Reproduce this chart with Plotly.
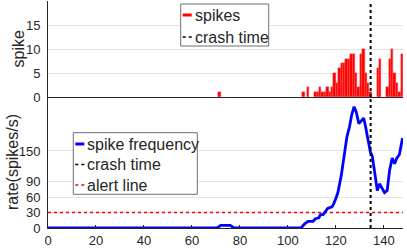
import plotly.graph_objects as go

# ---- data ----
spike_bins = [71, 106, 108, 111, 112, 113, 114, 115, 116, 117, 118, 119, 120, 121,
              122, 123, 124, 125, 126, 127, 128, 129, 130, 131, 132, 133, 134, 137,
              138, 141, 142, 143, 144, 145, 146, 147]
spike_counts = [1, 1, 2, 1, 1, 2, 1, 1, 2, 1, 2, 5, 3, 6, 7, 7, 8, 8, 9, 9, 5, 2, 9,
                10, 5, 3, 1, 6, 8, 2, 8, 10, 5, 3, 1, 9]

rate_t = [0, 70.5, 72, 76, 77.5, 105.5, 107, 108.4, 110.5, 111.5, 112.9, 113.6, 114.7,
          115.7, 116.6, 118.4, 119.1, 120.2, 120.9, 122.3, 123.7, 124.6, 125.7, 126.6,
          127.6, 128.5, 129.6, 130.6, 131.6, 132.4, 133.4, 134.4, 135.2, 135.9, 136.6,
          137.3, 138.2, 139.2, 140.3, 141.4, 142.4, 143.5, 144.5, 145.4, 146.5, 147.8]
rate_v = [0, 0, 5, 5, 0, 0, 8, 13, 13, 18, 20, 26, 26, 32, 38, 41, 47, 60, 70, 103,
          145, 177, 197, 220, 236, 226, 203, 208, 214, 197, 174, 148, 140, 119, 93, 73,
          86, 77, 69, 73, 112, 136, 125, 136, 143, 175]

crash_time = 134.5
alert_level = 30
x_range = [0, 148]
spike_range = [0, 20]
rate_range = [0, 255]
spike_ticks = [0, 5, 10, 15]
rate_ticks = [0, 30, 60, 90, 150]
x_ticks = [0, 20, 40, 60, 80, 100, 120, 140]

FONT = "Liberation Sans, Arial, sans-serif"
TXT = "#262626"
AX = "#262626"
GRID = "#e3e3e3"

fig = go.Figure()

# top: spikes
fig.add_trace(go.Bar(x=spike_bins, y=spike_counts, width=1, offset=0,
                     marker=dict(color="#ff0000", line=dict(color="#ff5a5a", width=0.4)),
                     xaxis="x2", yaxis="y2", name="spikes", showlegend=False))
fig.add_trace(go.Scatter(x=[crash_time, crash_time], y=spike_range, mode="lines",
                         line=dict(color="black", width=2, dash="dot"),
                         xaxis="x2", yaxis="y2", name="crash time", showlegend=False))

# bottom: rate
fig.add_trace(go.Scatter(x=x_range, y=[alert_level, alert_level], mode="lines",
                         line=dict(color="#ff0000", width=1.5, dash="dot"),
                         xaxis="x", yaxis="y", name="alert line", showlegend=False))
fig.add_trace(go.Scatter(x=rate_t, y=rate_v, mode="lines",
                         line=dict(color="#0000ff", width=2.8),
                         xaxis="x", yaxis="y", name="spike frequency", showlegend=False))
fig.add_trace(go.Scatter(x=[crash_time, crash_time], y=rate_range, mode="lines",
                         line=dict(color="black", width=2, dash="dot"),
                         xaxis="x", yaxis="y", name="crash time", showlegend=False))

L, R, T, B = 48, 4, 1, 22
W, H = 407, 250
PW, PH = W - L - R, H - T - B
split = 131 / PH


def px(xp):
    return (xp - L) / PW


def py(yp):
    return (H - B - yp) / PH


tickfont = dict(family=FONT, size=13, color=TXT)
fig.update_layout(
    width=W, height=H, margin=dict(l=L, r=R, t=T, b=B, autoexpand=False),
    paper_bgcolor="white", plot_bgcolor="white", showlegend=False, bargap=0,
    font=dict(family=FONT, color=TXT),
    xaxis=dict(domain=[0, 1], range=x_range, tickvals=x_ticks, showgrid=False,
               zeroline=False, showline=True, linecolor=AX, linewidth=1,
               ticks="inside", ticklen=3, tickcolor=AX, tickfont=tickfont,
               anchor="y", automargin=False),
    yaxis=dict(domain=[0, split], range=rate_range, tickvals=rate_ticks,
               showgrid=True, gridcolor=GRID, zeroline=False, showline=True,
               linecolor=AX, linewidth=1, ticks="", tickfont=tickfont,
               ticklabelstandoff=4, anchor="x", automargin=False),
    xaxis2=dict(domain=[0, 1], range=x_range, showticklabels=False, showgrid=False,
                zeroline=False, showline=True, linecolor=AX, linewidth=1.2,
                ticks="", anchor="y2", matches="x", automargin=False),
    yaxis2=dict(domain=[split, 1], range=spike_range, tickvals=spike_ticks,
                showgrid=True, gridcolor=GRID, zeroline=False, showline=True,
                linecolor=AX, linewidth=1, ticks="", tickfont=tickfont,
                ticklabelstandoff=4, anchor="x2", automargin=False),
)

# axis titles
fig.add_annotation(text="spike", x=px(18.5), y=py(49), xref="paper", yref="paper",
                   xanchor="center", yanchor="middle",
                   textangle=-90, showarrow=False, font=dict(family=FONT, size=16, color=TXT))
fig.add_annotation(text="rate(spikes/s)", x=px(12), y=py(162), xref="paper", yref="paper",
                   xanchor="center", yanchor="middle",
                   textangle=-90, showarrow=False, font=dict(family=FONT, size=16, color=TXT))

# custom legends (MATLAB-style compact)
legfont = dict(family=FONT, size=16, color=TXT)


def legend_box(x0, y0, x1, y1, items):
    fig.add_shape(type="rect", xref="paper", yref="paper",
                  x0=px(x0), x1=px(x1), y0=py(y0), y1=py(y1),
                  line=dict(color="#707070", width=1), fillcolor="white", layer="above")
    for (label, color, dash, width, ycen) in items:
        fig.add_shape(type="line", xref="paper", yref="paper",
                      x0=px(x0 + 2), x1=px(x0 + 11), y0=py(ycen), y1=py(ycen),
                      line=dict(color=color, width=width, dash=dash), layer="above")
        fig.add_annotation(text=label, x=px(x0 + 12), y=py(ycen), xref="paper",
                           yref="paper", xanchor="left", yanchor="middle",
                           showarrow=False, font=legfont)


legend_box(180.7, 4, 268.7, 46, [
    ("spikes", "#ff0000", "solid", 3, 15),
    ("crash time", "black", "dot", 1.5, 37),
])
legend_box(73.3, 132.7, 197.3, 194.3, [
    ("spike frequency", "#0000ff", "solid", 3, 144),
    ("crash time", "black", "dot", 1.5, 164.5),
    ("alert line", "#ff0000", "dot", 1.5, 185),
])

fig.write_html("out.html", config={"displayModeBar": False},
               post_script="document.body.style.margin='0';document.body.style.overflow='hidden';")
